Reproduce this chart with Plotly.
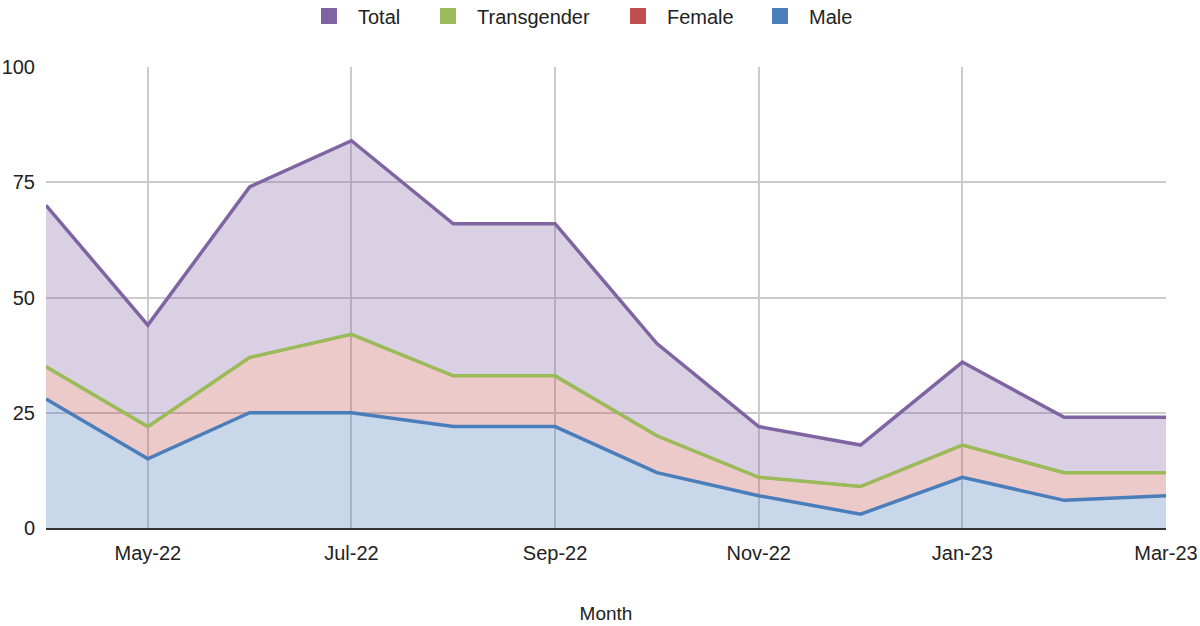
import plotly.graph_objects as go

months = ["Apr-22", "May-22", "Jun-22", "Jul-22", "Aug-22", "Sep-22",
          "Oct-22", "Nov-22", "Dec-22", "Jan-23", "Feb-23", "Mar-23"]
male = [28, 15, 25, 25, 22, 22, 12, 7, 3, 11, 6, 7]
female = [7, 7, 12, 17, 11, 11, 8, 4, 6, 7, 6, 5]
transgender = [0, 0, 0, 0, 0, 0, 0, 0, 0, 0, 0, 0]
total = [35, 22, 37, 42, 33, 33, 20, 11, 9, 18, 12, 12]
y_ticks = [0, 25, 50, 75, 100]

series = [
    ("Male", male, "#4a7ebb", "rgba(74,126,187,0.3)", 3.5),
    ("Female", female, "#c0504d", "rgba(192,80,77,0.3)", 2.5),
    ("Transgender", transgender, "#9bbb59", "rgba(155,187,89,0.3)", 3.5),
    ("Total", total, "#8064a2", "rgba(128,100,162,0.3)", 3.5),
]

W, H = 1200, 626
ML, MR, MT, MB = 46, 34, 67, 98
plot_h = H - MT - MB
legend_square_centers = {"Total": 320, "Transgender": 439, "Female": 629, "Male": 771}
legend_names = {"Total": "legend", "Transgender": "legend2", "Female": "legend3", "Male": "legend4"}

x = list(range(len(months)))
fig = go.Figure()
for name, vals, lc, fc, lw in series:
    fig.add_trace(go.Scatter(
        x=x, y=vals, name=name, stackgroup="one", mode="lines",
        line=dict(color=lc, width=lw), fillcolor=fc, showlegend=False,
    ))
for name, vals, lc, fc, lw in series:
    fig.add_trace(go.Scatter(
        x=[None], y=[None], name=name, mode="markers",
        marker=dict(symbol="square", size=16, color=lc),
        showlegend=True, legend=legend_names[name],
    ))

legend_y = 1 + (MT - 16) / plot_h
legends = {}
for name, key in legend_names.items():
    cx = legend_square_centers[name]
    legends[key] = dict(
        orientation="h", x=(cx - 20 - ML) / (W - ML - MR), xanchor="left",
        y=legend_y, yanchor="middle", bgcolor="rgba(0,0,0,0)",
        font=dict(size=20, color="#222"), itemwidth=48,
    )

tick_idx = [1, 3, 5, 7, 9, 11]
fig.update_layout(
    width=W, height=H,
    margin=dict(l=ML, r=MR, t=MT, b=MB, autoexpand=False),
    paper_bgcolor="white", plot_bgcolor="white",
    font=dict(family="Liberation Sans, Arial, sans-serif", size=20, color="#222"),
    xaxis=dict(range=[0, 11], tickmode="array", tickvals=tick_idx,
               ticktext=[months[i] for i in tick_idx], automargin=False,
               showgrid=True, gridcolor="#cccccc", gridwidth=1.5,
               zeroline=False, showline=True, linecolor="#333333", linewidth=2,
               ticks="", ticklabelstandoff=6, tickfont=dict(size=20),
               title=dict(text="Month", font=dict(size=19), standoff=44)),
    yaxis=dict(range=[0, 100], tickmode="array", tickvals=y_ticks, automargin=False,
               showgrid=True, gridcolor="#cccccc", gridwidth=1.5,
               zeroline=False, ticks="", ticklabelstandoff=10, tickfont=dict(size=20)),
    **legends,
)
fig.write_html("out.html", config={"displayModeBar": False},
               post_script="document.body.style.margin='0';document.body.style.overflow='hidden';")
